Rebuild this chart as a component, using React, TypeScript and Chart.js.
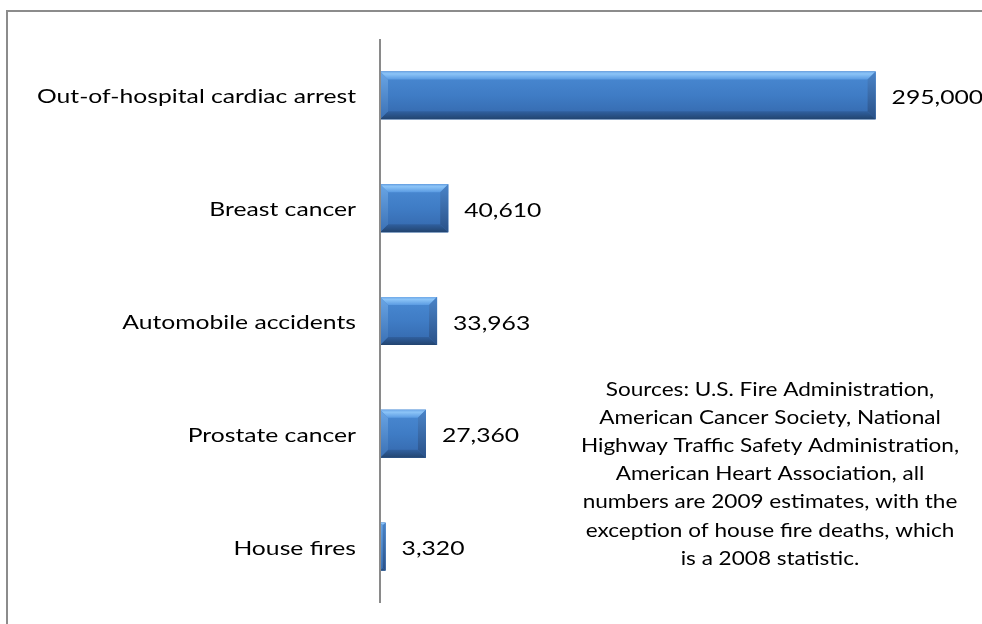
import React, { useEffect, useRef } from "react";
import { Chart, registerables } from "chart.js";

Chart.register(...registerables);

const categories = [
  "Out-of-hospital cardiac arrest",
  "Breast cancer",
  "Automobile accidents",
  "Prostate cancer",
  "House fires",
];
const deaths = [295000, 40610, 33963, 27360, 3320];
const valueLabels = ["295,000", "40,610", "33,963", "27,360", "3,320"];
const axisMin = 0;
const axisMax = 350000;
const sourceLines = [
  "Sources: U.S. Fire Administration,",
  "American Cancer Society, National",
  "Highway Traffic Safety Administration,",
  "American Heart Association, all",
  "numbers are 2009 estimates, with the",
  "exception of house fire deaths, which",
  "is a 2008 statistic.",
];

const FONT = "20px Lato";
const NOTE_FONT = "18.3px Lato";
const TEXT_COLOR = "#000000";

function getStretch(ctx: CanvasRenderingContext2D) {
  ctx.save();
  ctx.font = FONT;
  const w = ctx.measureText("Out-of-hospital cardiac arrest").width;
  ctx.restore();
  return w > 0 ? 319 / w : 1.25;
}

function drawStretched(
  ctx: CanvasRenderingContext2D,
  text: string,
  x: number,
  y: number,
  align: CanvasTextAlign,
  sx: number,
  font: string = FONT
) {
  ctx.save();
  ctx.translate(x, y);
  ctx.scale(sx, 1);
  ctx.font = font;
  ctx.fillStyle = TEXT_COLOR;
  ctx.textAlign = align;
  ctx.textBaseline = "alphabetic";
  ctx.fillText(text, 0, 0);
  ctx.restore();
}

function poly(ctx: CanvasRenderingContext2D, pts: number[][], fill: any) {
  ctx.beginPath();
  ctx.moveTo(pts[0][0], pts[0][1]);
  for (let i = 1; i < pts.length; i++) ctx.lineTo(pts[i][0], pts[i][1]);
  ctx.closePath();
  ctx.fillStyle = fill;
  ctx.fill();
}

const decorPlugin = {
  id: "decor",
  afterDatasetsDraw(chart: any) {
    const ctx: CanvasRenderingContext2D = chart.ctx;
    const meta = chart.getDatasetMeta(0);
    const xScale = chart.scales.x;
    const area = chart.chartArea;
    const sx = getStretch(ctx);

    meta.data.forEach((el: any, i: number) => {
      const p = el.getProps(["x", "y", "base", "height"], true);
      const left = Math.min(p.base, p.x);
      const right = Math.max(p.base, p.x);
      const top = p.y - p.height / 2;
      const bottom = p.y + p.height / 2;
      const w = right - left;
      const h = bottom - top;
      const b = Math.min(8, w / 2, h / 2);

      ctx.save();
      const body = ctx.createLinearGradient(0, top, 0, bottom);
      body.addColorStop(0, "#4a8ad3");
      body.addColorStop(0.5, "#3f7cc5");
      body.addColorStop(1, "#3467ab");
      poly(ctx, [[left, top], [right, top], [right, bottom], [left, bottom]], body);

      const topG = ctx.createLinearGradient(0, top, 0, top + b);
      topG.addColorStop(0, "#6fa9e8");
      topG.addColorStop(0.3, "#8cc4f7");
      topG.addColorStop(1, "#5a9be2");
      poly(ctx, [[left, top], [right, top], [right - b, top + b], [left + b, top + b]], topG);

      const botG = ctx.createLinearGradient(0, bottom - b, 0, bottom);
      botG.addColorStop(0, "#30609f");
      botG.addColorStop(1, "#22446f");
      poly(ctx, [[left, bottom], [right, bottom], [right - b, bottom - b], [left + b, bottom - b]], botG);

      const leftG = ctx.createLinearGradient(0, top, 0, bottom);
      leftG.addColorStop(0, "#6aa6e6");
      leftG.addColorStop(1, "#3a70b4");
      poly(ctx, [[left, top], [left + b, top + b], [left + b, bottom - b], [left, bottom]], leftG);

      const rightG = ctx.createLinearGradient(0, top, 0, bottom);
      rightG.addColorStop(0, "#4a84c8");
      rightG.addColorStop(1, "#2a5188");
      poly(ctx, [[right, top], [right - b, top + b], [right - b, bottom - b], [right, bottom]], rightG);
      ctx.restore();

      drawStretched(ctx, valueLabels[i], right + 16, p.y + 8.5, "left", sx);
    });

    // vertical category axis line at value 0
    const x0 = xScale.getPixelForValue(axisMin);
    ctx.save();
    ctx.strokeStyle = "#8a8a8a";
    ctx.lineWidth = 2;
    ctx.beginPath();
    ctx.moveTo(x0, area.top);
    ctx.lineTo(x0, area.bottom);
    ctx.stroke();
    ctx.restore();

    // category labels
    const yScale = chart.scales.y;
    categories.forEach((c, i) => {
      const y = yScale.getPixelForValue(i);
      drawStretched(ctx, c, x0 - 24, y + 8, "right", sx);
    });

    // source note
    sourceLines.forEach((line, i) => {
      drawStretched(ctx, line, 770, 396 + i * 28.1, "center", sx, NOTE_FONT);
    });
  },
};

export default function App() {
  const canvasRef = useRef<HTMLCanvasElement | null>(null);

  useEffect(() => {
    if (!canvasRef.current) return;
    const chart = new Chart(canvasRef.current, {
      type: "bar",
      data: {
        labels: categories,
        datasets: [
          {
            data: deaths,
            backgroundColor: "#3f7cc5",
            borderWidth: 0,
            barPercentage: 0.425,
            categoryPercentage: 1,
          },
        ],
      },
      options: {
        indexAxis: "y",
        animation: false,
        responsive: false,
        maintainAspectRatio: false,
        layout: { padding: { left: 380, right: 14, top: 39, bottom: 21 } },
        plugins: {
          legend: { display: false },
          tooltip: { enabled: false },
          title: { display: false },
        },
        scales: {
          x: { display: false, min: axisMin, max: axisMax },
          y: { display: false },
        },
      },
      plugins: [decorPlugin],
    });
    return () => chart.destroy();
  }, []);

  return (
    <div
      style={{
        position: "fixed",
        left: 0,
        top: 0,
        width: 982,
        height: 624,
        overflow: "hidden",
        background: "#ffffff",
      }}
    >
      <div
        style={{
          position: "absolute",
          left: 6,
          top: 10,
          width: 1100,
          height: 800,
          borderTop: "2px solid #8c8c8c",
          borderLeft: "2px solid #8c8c8c",
          boxSizing: "border-box",
        }}
      />
      <canvas
        ref={canvasRef}
        width={982}
        height={624}
        style={{ position: "absolute", left: 0, top: 0, width: 982, height: 624 }}
      />
    </div>
  );
}
